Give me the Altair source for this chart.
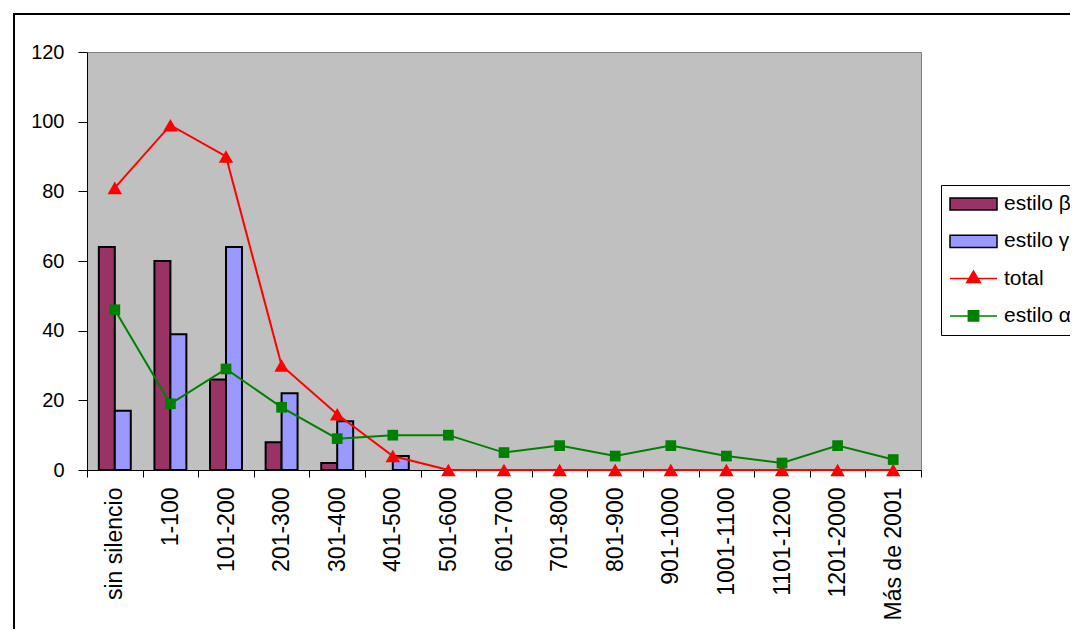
import altair as alt
import pandas as pd

categories = ["sin silencio", "1-100", "101-200", "201-300", "301-400", "401-500",
              "501-600", "601-700", "701-800", "801-900", "901-1000", "1001-1100",
              "1101-1200", "1201-2000", "Más de 2001"]
estilo_beta = [64, 60, 26, 8, 2, 0, 0, 0, 0, 0, 0, 0, 0, 0, 0]
estilo_gamma = [17, 39, 64, 22, 14, 4, 0, 0, 0, 0, 0, 0, 0, 0, 0]
total = [81, 99, 90, 30, 16, 4, 0, 0, 0, 0, 0, 0, 0, 0, 0]
estilo_alpha = [46, 19, 29, 18, 9, 10, 10, 5, 7, 4, 7, 4, 2, 7, 3]
series_names = ["estilo β", "estilo γ", "total", "estilo α"]
series_colors = ["#993366", "#9999FF", "#FF0000", "#008000"]
series_strokes = ["#000000", "#000000", "#FF0000", "#008000"]
y_ticks = [0, 20, 40, 60, 80, 100, 120]

bar_rows = []
for c, b, g in zip(categories, estilo_beta, estilo_gamma):
    if b > 0:
        bar_rows.append({"cat": c, "series": "estilo β", "value": b})
    if g > 0:
        bar_rows.append({"cat": c, "series": "estilo γ", "value": g})
bars_df = pd.DataFrame(bar_rows)

line_rows = []
for c, t, a in zip(categories, total, estilo_alpha):
    line_rows.append({"cat": c, "series": "total", "value": t})
    line_rows.append({"cat": c, "series": "estilo α", "value": a})
lines_df = pd.DataFrame(line_rows)

FONT = "Liberation Sans"

shape_expr = ("datum.value == 'total' ? 'M-1,0H1M0,-0.32L0.29,0.17L-0.29,0.17Z' : "
              "datum.value == 'estilo α' ? 'M-1,0H1M-0.22,-0.22H0.22V0.22H-0.22Z' : "
              "'M-1,-0.26H1V0.26H-1Z'")


def make_legend():
    return alt.Legend(
        title=None, orient="none", legendX=854, legendY=133, direction="vertical",
        symbolSize=2209, symbolType={"expr": shape_expr},
        symbolStrokeWidth=1.5, symbolOffset=0, symbolOpacity=1,
        labelFont=FONT, labelFontSize=21, labelColor="black", labelOffset=6,
        clipHeight=22, rowPadding=15.3, padding=8,
        strokeColor="black", fillColor="white",
    )


color_enc = alt.Color("series:N", scale=alt.Scale(domain=series_names, range=series_colors),
                      legend=make_legend())
stroke_enc = alt.Stroke("series:N", scale=alt.Scale(domain=series_names, range=series_strokes),
                        legend=make_legend())

x_enc = alt.X("cat:N", sort=categories,
              scale=alt.Scale(domain=categories, paddingInner=0, paddingOuter=0),
              axis=alt.Axis(title=None, labelAngle=270, labelFont=FONT, labelFontSize=23,
                            labelColor="black", labelPadding=10, labelOverlap=False,
                            labelBound=False, labelFlush=False,
                            tickBand="extent", tickSize=7, tickColor="black",
                            domainColor="black", grid=False))
y_enc = alt.Y("value:Q", scale=alt.Scale(domain=[0, 120], nice=False),
              axis=alt.Axis(title=None, values=y_ticks, labelFont=FONT, labelFontSize=20,
                            labelColor="black", labelPadding=14, tickSize=9,
                            tickColor="black", domainColor="black", grid=False))

frame = alt.Chart(pd.DataFrame({"k": [0]})).mark_rect(
    filled=False, stroke="black", strokeWidth=2
).encode(x=alt.value(-73), x2=alt.value(1200), y=alt.value(-38), y2=alt.value(900))

bars = alt.Chart(bars_df).mark_bar(strokeWidth=2).encode(
    x=x_enc,
    xOffset=alt.XOffset("series:N", sort=["estilo β", "estilo γ"],
                        scale=alt.Scale(domain=["estilo β", "estilo γ"],
                                        paddingInner=0, paddingOuter=0.74)),
    y=y_enc,
    color=color_enc,
    stroke=stroke_enc,
)

lines = alt.Chart(lines_df).mark_line(strokeWidth=2).encode(
    x=x_enc, y=y_enc, stroke=stroke_enc, detail="series:N"
)

points = alt.Chart(lines_df).mark_point(filled=True, opacity=1).encode(
    x=x_enc, y=y_enc, color=color_enc,
    shape=alt.Shape("series:N", scale=alt.Scale(domain=["total", "estilo α"],
                                                range=["triangle-up", "square"]), legend=None),
    size=alt.Size("series:N", scale=alt.Scale(domain=["total", "estilo α"],
                                              range=[210, 115]), legend=None),
)

chart = alt.layer(frame, bars, lines, points).properties(
    width=834, height=418,
    autosize=alt.AutoSizeParams(type="none"),
    padding={"left": 79, "top": 44, "right": 149, "bottom": 159},
    background="white",
).configure_view(fill="#C0C0C0", stroke="#808080", strokeWidth=1)

chart.save("out.html", embed_options={"renderer": "svg", "actions": False})
